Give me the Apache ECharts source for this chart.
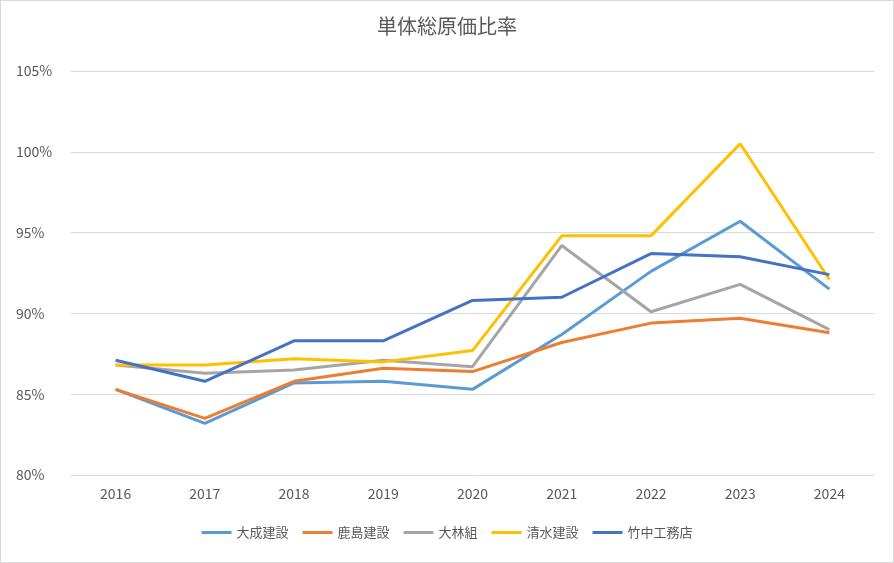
<!DOCTYPE html>
<html><head><meta charset="utf-8">
<script src="https://cdn.jsdelivr.net/npm/echarts@6/dist/echarts.min.js"></script>
<style>body{margin:0}#c{width:894px;height:563px;box-sizing:border-box;border:1px solid #d9d9d9;background:#fff}</style>
</head><body><div id="c"></div>
<script>
var years = ['2016','2017','2018','2019','2020','2021','2022','2023','2024'];
var taisei = [85.3, 83.2, 85.7, 85.8, 85.3, 88.7, 92.6, 95.7, 91.5];
var kajima = [85.3, 83.5, 85.8, 86.6, 86.4, 88.2, 89.4, 89.7, 88.8];
var obayashi = [86.8, 86.3, 86.5, 87.1, 86.7, 94.2, 90.1, 91.8, 89.0];
var shimizu = [86.8, 86.8, 87.2, 87.0, 87.7, 94.8, 94.8, 100.5, 92.1];
var takenaka = [87.1, 85.8, 88.3, 88.3, 90.8, 91.0, 93.7, 93.5, 92.4];
var names = ['大成建設','鹿島建設','大林組','清水建設','竹中工務店'];
var colors = ['#5B9BD5','#ED7D31','#A5A5A5','#FFC000','#4472C4'];

var myChart = echarts.init(document.getElementById('c'));
var all = [taisei, kajima, obayashi, shimizu, takenaka];
var series = [];
for (var i = 0; i < all.length; i++) {
    series.push({
        name: names[i], type: 'line', data: all[i], symbol: 'none',
        lineStyle: {width: 3, color: colors[i]}, itemStyle: {color: colors[i]}
    });
}
option = {
    textStyle: {fontFamily: 'Noto Sans CJK JP'},
    title: {text: '単体総原価比率', left: 'center', top: 10,
        textStyle: {fontSize: 20, fontWeight: 'normal', color: '#595959', fontFamily: 'Noto Sans CJK JP'}},
    legend: {bottom: 18, left: 'center', itemWidth: 30, itemHeight: 3, icon: 'rect', itemGap: 14,
        textStyle: {fontSize: 13, color: '#595959'}, data: names},
    grid: {left: 70, right: 19, top: 70, bottom: 87},
    xAxis: {type: 'category', data: years, boundaryGap: true,
        axisLine: {lineStyle: {color: '#d9d9d9'}}, axisTick: {show: false},
        axisLabel: {color: '#595959', fontSize: 14, margin: 12}},
    yAxis: {type: 'value', min: 80, max: 105, interval: 5,
        axisLine: {show: false}, axisTick: {show: false},
        splitLine: {lineStyle: {color: '#d9d9d9'}},
        axisLabel: {color: '#595959', fontSize: 14, formatter: '{value}%', margin: 55, align: 'left'}},
    series: series
};
myChart.setOption(option);
</script></body></html>
